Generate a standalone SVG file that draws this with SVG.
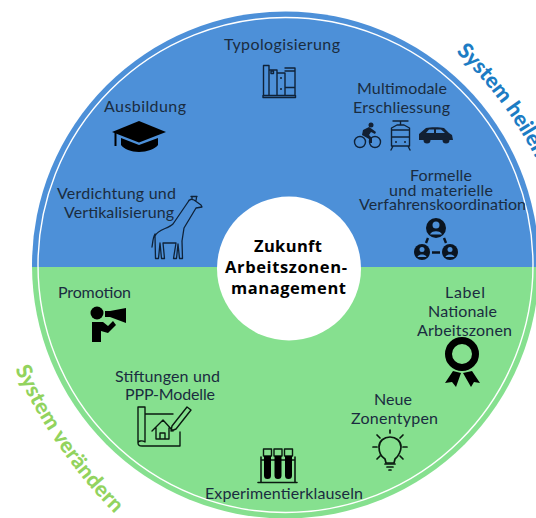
<svg xmlns="http://www.w3.org/2000/svg" width="536" height="518" viewBox="0 0 536 518">
<style>
.l{font-family:Lato,"Open Sans",sans-serif;font-size:16px;fill:#1a2c40;text-anchor:start}
.g{fill:#122033}
.c{font-family:"Open Sans","Noto Sans",sans-serif;font-weight:700;font-size:16.5px;fill:#000}
.r{font-family:Lato,"Open Sans",sans-serif;font-weight:900;font-size:21.5px}
.s{fill:none;stroke:#0f2238;stroke-width:1.4;stroke-linejoin:round;stroke-linecap:round}
.k{fill:none;stroke:#0a1a10;stroke-width:1.4;stroke-linejoin:round;stroke-linecap:round}
.b{fill:#000}
</style>
<defs>
<path id="arcB" d="M 456 52 A 400 400 0 0 1 546 180"/>
<path id="arcG" d="M 15 369 A 500 500 0 0 0 150 546"/>
<clipPath id="top"><rect x="0" y="0" width="536" height="267"/></clipPath>
<clipPath id="bot"><rect x="0" y="267" width="536" height="251"/></clipPath>
</defs>
<g id="disc">
<circle cx="285.5" cy="265" r="253.5" fill="#4d90d8" clip-path="url(#top)"/>
<circle cx="285.5" cy="265" r="253.5" fill="#86e08f" clip-path="url(#bot)"/>
<circle cx="285.5" cy="265" r="247.5" fill="none" stroke="#fff" stroke-width="1.4"/>
</g>
<g id="center">
<circle cx="289" cy="268.5" r="72" fill="#fff"/>
<text class="c" x="254" y="252" textLength="68">Zukunft</text>
<text class="c" x="225" y="273" textLength="122">Arbeitszonen-</text>
<text class="c" x="231" y="294" textLength="115">management</text>
</g>
<g id="system-heilen"><text class="r" fill="#1c7cc4"><textPath href="#arcB" startOffset="0">System heilen</textPath></text></g>
<g id="system-veraendern"><text class="r" fill="#92d35e" letter-spacing="0.3"><textPath href="#arcG" startOffset="0">System verändern</textPath></text></g>

<g id="typologisierung">
<text class="l" x="224" y="50" textLength="116">Typologisierung</text>
<path class="s" d="M263.500 95V65.500H269V95M269 70H277V95M277 73H285V95M285 68H295V95M285 87.500H295M285 71H295M263 95.500H295.500V97.500H263Z"/>
<rect class="s" x="271" y="71" width="2.500" height="2.500"/>
<circle class="g" cx="281" cy="78" r="1"/><circle class="g" cx="281" cy="89" r="1"/>
</g>
<g id="ausbildung">
<text class="l" x="104" y="112" textLength="82">Ausbildung</text>
<path class="b" d="M112 132L139 121L166 132L139 142.500Z"/>
<path class="b" d="M121 138L139 145L158 138V145C155 149 147 152 139 152C131 152 124 149 121 145Z"/>
<path class="b" d="M114.500 133H116.500V146H114.500Z"/>
</g>
<g id="verdichtung">
<text class="l" x="57" y="199" textLength="119">Verdichtung und</text>
<text class="l" x="64" y="218" textLength="110">Vertikalisierung</text>
<path class="s" style="stroke-width:1.300" d="M188 202C189 199 192 199 194 200L201 205L202 207L196 208L184 228L182 241L182.500 258.500H179.500L178 244L176.500 258.500H173.500L176 243H163L164.500 258.500H161.500L160 243L158.500 258.500H155.500L155 236C158 229 168 229 173 224ZM155 234C153 237 153 241 152 247M192 199L192 196.500M196 200.500L196.500 197.500M191 196.500H197"/>
</g>
<g id="multimodal">
<text class="l" x="357" y="94" textLength="90">Multimodale</text>
<text class="l" x="353" y="113" textLength="97">Erschliessung</text>
<circle class="g" cx="371" cy="125" r="2.500"/>
<circle class="s" cx="360" cy="142" r="5.500"/><circle class="s" cx="375" cy="142" r="5.500"/>
<path class="g" d="M363 130L369 127L372 129L376 132L375 134L371 132L369 135L372 138V143H370L369 139L362 135Z"/>
<path class="s" d="M393 121H408M400.500 121V125M397 125H404L409.500 128V146H391.500V128ZM392 137H409M392 130H409M393 146L391 150M408 146L410 150"/>
<circle class="g" cx="396" cy="142" r="1"/><circle class="g" cx="405" cy="142" r="1"/>
<path class="g" d="M419 134L426 128C430 127 440 127 444 128L449 133L452 135L453 140H419Z"/>
<circle cx="427" cy="140" r="3.500" fill="#122033"/><circle cx="446" cy="140" r="3.500" fill="#122033"/>
<path fill="#4d90d8" d="M426 133L429 129.500H434V133ZM436 129.500H441L445 133H436Z"/>
</g>
<g id="verfahren">
<text class="l" x="410" y="181" textLength="62">Formelle</text>
<text class="l" x="389" y="196" textLength="104">und materielle</text>
<text class="l" x="359" y="210" textLength="167">Verfahrenskoordination</text>
<circle cx="436" cy="228" r="10" fill="#0a1420"/>
<circle cx="436" cy="225" r="3.500" fill="#4d90d8"/>
<path d="M430 234.500C431 230 441 230 442 234.500Z" fill="#4d90d8"/>
<circle cx="422" cy="252" r="8" fill="#0a1420"/>
<circle cx="422" cy="249.500" r="2.500" fill="#4d90d8"/>
<path d="M417.500 257C418 253.500 426 253.500 426.500 257Z" fill="#4d90d8"/>
<circle cx="450" cy="252" r="8" fill="#0a1420"/>
<circle cx="450" cy="249.500" r="2.500" fill="#4d90d8"/>
<path d="M445.500 257C446 253.500 454 253.500 454.500 257Z" fill="#4d90d8"/>
<path d="M428 238L426 243M444 238L446 243M432 252.500H440" stroke="#0a1420" stroke-width="2.400" fill="none"/>
</g>
<g id="promotion">
<text class="l" x="58" y="298" textLength="73">Promotion</text>
<circle class="b" cx="97" cy="313" r="6.500"/>
<path class="b" d="M92 322H103L108 326L113 321L116 325L108 333L101 331V342H92Z"/>
<path class="b" d="M105 311H110L126 308V323L110 317H105Z"/>
</g>
<g id="stiftungen">
<text class="l" x="115" y="382" textLength="105">Stiftungen und</text>
<text class="l" x="125" y="400" textLength="90">PPP-Modelle</text>
<path class="k" d="M138 443V407H145V442C142 440 138 441 138 443C138 445 140 446 142 446H180V432M145 414H173"/>
<path class="k" d="M152 431L163 420L173 431M156 428V439H169V428M160 439V433H165V439"/>
<path class="k" d="M172 426L187 407L191 410L176 429L171 431Z"/>
</g>
<g id="experimentier">
<text class="l" x="205" y="499" textLength="158">Experimentierklauseln</text>
<path class="k" style="stroke-width:1.600" d="M258 482.500H297M261 482V457M295 482V457M261 460H295"/>
<rect x="263.500" y="449" width="8" height="7" class="k"/><rect x="274" y="449" width="8" height="7" class="k"/><rect x="284.500" y="449" width="8" height="7" class="k"/>
<path class="b" d="M264 456H271V475.500A3.500 3.500 0 0 1 264 475.500ZM274.500 456H281.500V475.500A3.500 3.500 0 0 1 274.500 475.500ZM285 456H292V475.500A3.500 3.500 0 0 1 285 475.500Z"/>
</g>
<g id="label">
<text class="l" x="445" y="298" textLength="40">Label</text>
<text class="l" x="428" y="317" textLength="69">Nationale</text>
<text class="l" x="417" y="336" textLength="95">Arbeitszonen</text>
<circle cx="462" cy="354" r="13.500" fill="none" stroke="#000" stroke-width="7"/>
<path class="b" d="M453 371L445 383L452 382L456 387L461 373ZM463 373L471 387L474 382L480 383L472 371Z"/>
</g>
<g id="neue">
<text class="l" x="374" y="405" textLength="38">Neue</text>
<text class="l" x="351" y="424" textLength="87">Zonentypen</text>
<path class="k" style="stroke-width:1.700" d="M385 459C380 456 379 450 379 447C379 441 384 437 390 437C396 437 401 441 401 447C401 450 399 456 395 459L394 463H386Z"/>
<path class="k" style="stroke-width:1.700" d="M385 464H395M387 467H393M389 470H391M390 430V433M377 435L380 438M403 435L400 438M373 447H377M403 447H407M377 459L380 456M403 459L400 456"/>
</g>
</svg>
